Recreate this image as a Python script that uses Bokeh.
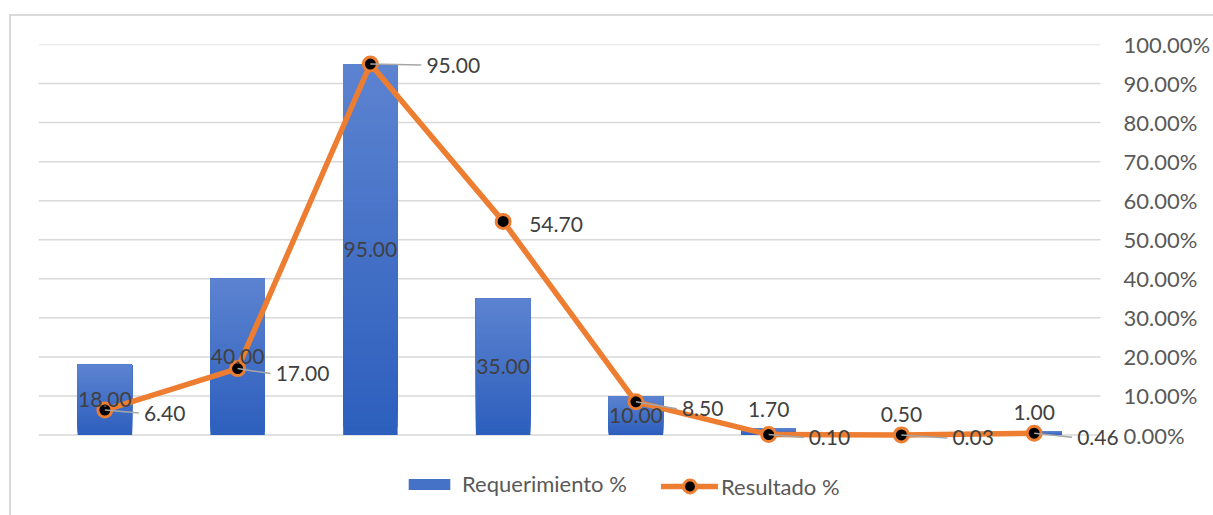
import numpy as np
from bokeh.plotting import figure
from bokeh.models import (ColumnDataSource, Range1d, FixedTicker, PrintfTickFormatter,
                          Legend, LegendItem)
from bokeh.core.properties import value
from bokeh.embed import file_html
from bokeh.resources import INLINE

# ---- data ----
categories = ["1", "2", "3", "4", "5", "6", "7", "8"]
requerimiento = [18.00, 40.00, 95.00, 35.00, 10.00, 1.70, 0.50, 1.00]
resultado = [6.40, 17.00, 95.00, 54.70, 8.50, 0.10, 0.03, 0.46]
pct_ticks = [0, 10, 20, 30, 40, 50, 60, 70, 80, 90, 100]

# ---- layout ----
W, H = 1213, 515
LEFT, RIGHT, TOP, BOTTOM = 38, 89, 44, 0
CAT_PX = 133.0                              # width of one category slot
frame_w = W - LEFT - RIGHT
frame_h = H - TOP - BOTTOM
zero_from_top = 390.5                       # pixels from frame top down to the 0 line
y_px = zero_from_top / 100.0                # pixels per percentage point
y_min = -(frame_h - zero_from_top) / y_px   # room under the axis for the legend
x_end = -0.5 + frame_w / CAT_PX             # a little room right of the last slot for labels

FONT = "Lato"
LABEL_COLOR = "#404040"
AXIS_COLOR = "#595959"
GRID_COLOR = "#D9D9D9"
ORANGE = "#ED7D31"

x = np.arange(len(categories), dtype=float)

p = figure(width=W, height=H, output_backend="svg", toolbar_location=None,
           x_range=Range1d(-0.5, x_end), y_range=Range1d(y_min, 100),
           x_axis_location=None, y_axis_location="right",
           min_border_left=LEFT, min_border_right=RIGHT,
           min_border_top=TOP, min_border_bottom=BOTTOM,
           background_fill_color=None, border_fill_color=None)
p.outline_line_color = None
# chart-area border (top and left edges) behind a transparent canvas
p.styles = {"background": (
    f"linear-gradient({GRID_COLOR},{GRID_COLOR}) 9px 14px / 2px 100% no-repeat, "
    f"linear-gradient({GRID_COLOR},{GRID_COLOR}) 9px 14px / 100% 2px no-repeat, #FFFFFF")}

# right percentage axis
ax = p.yaxis[0]
ax.ticker = FixedTicker(ticks=pct_ticks)
ax.formatter = PrintfTickFormatter(format="%.2f%%")
ax.axis_line_color = None
ax.major_tick_line_color = None
ax.minor_tick_line_color = None
ax.major_tick_in = 0
ax.major_tick_out = 0
ax.major_label_standoff = 1
ax.major_label_text_font = FONT
ax.major_label_text_font_size = "22px"
ax.major_label_text_color = AXIS_COLOR

# horizontal gridlines across the category slots only
p.xgrid.visible = False
p.ygrid.visible = False
n = len(categories)
p.segment(x0=[-0.5] * len(pct_ticks), y0=pct_ticks, x1=[n - 0.5] * len(pct_ticks),
          y1=pct_ticks, line_color=GRID_COLOR, line_width=1.5)

# ---- bars with a vertical gradient (stacked, overlapping bands) ----
N = 48
top_rgb = np.array([92, 131, 208])
bot_rgb = np.array([45, 95, 189])
bx, bb, bt, bc = [], [], [], []
for i, v in enumerate(requerimiento):
    for k in range(N):
        t = k / (N - 1)
        r, g, b = (bot_rgb + (top_rgb - bot_rgb) * t).round().astype(int)
        bx.append(x[i])
        bb.append(v * k / N)
        bt.append(v)
        bc.append("#%02x%02x%02x" % (r, g, b))
bar_src = ColumnDataSource(dict(x=bx, bottom=bb, top=bt, color=bc))
bars = p.vbar(x="x", bottom="bottom", top="top", width=0.41, fill_color="color",
              line_color=None, source=bar_src)

# ---- result line ----
line = p.line(x, resultado, line_color=ORANGE, line_width=5.5,
              line_join="round", line_cap="round")
dots = p.scatter(x, resultado, marker="circle", size=14, fill_color="black",
                 line_color=ORANGE, line_width=3)

# ---- bar value labels: centred in the bar, above it when the bar is too short ----
bar_lab_y = [v / 2 if v >= 5 else v for v in requerimiento]
bar_lab_off = [0 if v >= 5 else -19 for v in requerimiento]
p.text(x=x, y=bar_lab_y, text=["%.2f" % v for v in requerimiento], y_offset=bar_lab_off,
       text_align="center", text_baseline="middle", text_font=value(FONT),
       text_font_size="21px", text_color=LABEL_COLOR)

# ---- result labels to the right of each point, with leader lines ----
lab_dx = [39, 38, 56, 26, 46, 40, 51, 43]   # px right of the point
lab_dy = [3, 5, 1, 3, 7, 3, 3, 4]           # px below the point
leader = [True, True, True, False, True, True, True, True]
lx0, ly0, lx1, ly1 = [], [], [], []
for i, v in enumerate(resultado):
    if leader[i]:
        lx0.append(x[i])
        ly0.append(v)
        lx1.append(x[i] + (lab_dx[i] - 5) / CAT_PX)
        ly1.append(v - lab_dy[i] / y_px)
p.segment(lx0, ly0, lx1, ly1, line_color="#A6A6A6", line_width=1.5)

p.text(x=x, y=resultado, text=["%.2f" % v for v in resultado],
       x_offset=lab_dx, y_offset=lab_dy,
       text_align="left", text_baseline="middle", text_font=value(FONT),
       text_font_size="21px", text_color=LABEL_COLOR)

# ---- legend (one box per entry so each swatch gets its own size) ----
common = dict(orientation="horizontal", border_line_color=None, background_fill_alpha=0,
              padding=0, margin=0, label_text_font=FONT,
              label_text_font_size="22px", label_text_color=AXIS_COLOR)
leg_bar = Legend(items=[LegendItem(label="Requerimiento %", renderers=[bars], index=N // 2)],
                 location=(403 - LEFT, 18), glyph_width=52, glyph_height=14,
                 label_standoff=7, **common)
leg_line = Legend(items=[LegendItem(label="Resultado %", renderers=[line, dots])],
                  location=(661 - LEFT, 13), glyph_width=57, glyph_height=32,
                  label_standoff=3, **common)
p.add_layout(leg_bar, "center")
p.add_layout(leg_line, "center")

open("out.html", "w").write(file_html(p, INLINE))
